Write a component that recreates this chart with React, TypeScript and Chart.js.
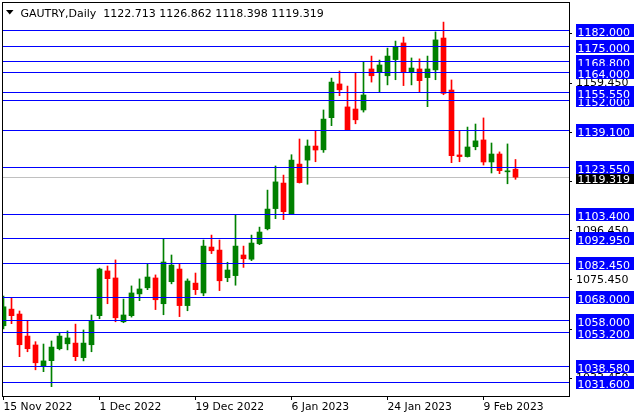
import React, { useEffect, useRef } from "react";
import { Chart, registerables } from "chart.js";

Chart.register(...registerables);

// ---- data (daily OHLC, bar index 0 = 15 Nov 2022) ----
const opens = [
  1055.9, 1063.0, 1060.9, 1051.5, 1047.7, 1038.7, 1041.0, 1046.1, 1048.2, 1048.5,
  1042.3, 1047.8, 1060.2, 1079.3, 1076.3, 1057.6, 1060.2, 1069.5, 1072.1, 1076.3,
  1065.3, 1074.7, 1080.1, 1064.5, 1074.1, 1069.9, 1089.5, 1088.2, 1076.4, 1077.3,
  1086.1, 1084.3, 1090.9, 1097.3, 1105.9, 1116.8, 1103.6, 1124.9, 1126.6, 1132.6,
  1131.0, 1144.7, 1159.1, 1149.3, 1148.4, 1148.0, 1165.5, 1164.2, 1162.6, 1169.5,
  1176.6, 1164.2, 1165.5, 1161.8, 1165.1, 1178.7, 1156.5, 1128.8, 1128.1, 1132.3,
  1135.2, 1125.8, 1129.2, 1121.6, 1122.713,
];
const highs = [
  1068.6, 1067.9, 1062.2, 1058.1, 1049.1, 1048.1, 1049.4, 1052.9, 1053.7, 1056.6,
  1054.1, 1060.5, 1080.5, 1081.4, 1084.0, 1067.3, 1072.9, 1075.9, 1082.4, 1077.6,
  1093.2, 1086.1, 1082.1, 1075.9, 1078.4, 1092.5, 1094.6, 1092.5, 1083.0, 1103.2,
  1089.9, 1094.6, 1098.0, 1113.8, 1124.1, 1120.2, 1128.9, 1135.6, 1135.2, 1139.1,
  1148.0, 1161.6, 1164.6, 1158.2, 1163.8, 1168.5, 1171.0, 1169.3, 1174.4, 1177.4,
  1179.1, 1170.2, 1169.8, 1171.0, 1181.3, 1185.5, 1160.8, 1139.1, 1140.7, 1142.0,
  1144.6, 1133.9, 1130.1, 1133.5, 1126.862,
];
const lows = [
  1054.6, 1056.8, 1042.7, 1044.8, 1037.1, 1036.3, 1029.9, 1045.6, 1045.6, 1041.0,
  1040.9, 1044.8, 1058.9, 1065.3, 1057.6, 1057.2, 1059.6, 1066.6, 1071.3, 1062.8,
  1060.6, 1073.8, 1059.8, 1062.3, 1069.2, 1068.7, 1086.7, 1070.9, 1074.7, 1073.2,
  1080.8, 1083.7, 1090.5, 1096.8, 1101.6, 1101.2, 1103.4, 1116.8, 1116.3, 1125.9,
  1129.9, 1141.3, 1154.1, 1139.2, 1142.1, 1147.1, 1159.9, 1155.7, 1158.7, 1160.9,
  1158.4, 1158.7, 1155.7, 1149.4, 1160.9, 1154.5, 1125.5, 1125.9, 1127.9, 1131.0,
  1124.5, 1121.1, 1120.8, 1116.5, 1118.398,
];
const closes = [
  1064.0, 1060.2, 1047.8, 1046.1, 1040.1, 1040.9, 1046.8, 1051.5, 1050.7, 1042.7,
  1048.5, 1058.1, 1080.1, 1076.0, 1059.3, 1060.5, 1069.9, 1071.6, 1076.7, 1067.0,
  1083.1, 1081.8, 1064.5, 1075.0, 1071.3, 1089.9, 1087.9, 1075.1, 1079.7, 1089.9,
  1084.5, 1091.2, 1095.9, 1105.7, 1117.3, 1104.6, 1126.6, 1117.0, 1132.6, 1130.9,
  1144.1, 1159.9, 1156.6, 1139.4, 1143.8, 1154.4, 1162.6, 1167.2, 1171.0, 1175.0,
  1164.3, 1165.9, 1160.5, 1165.5, 1177.9, 1155.1, 1128.5, 1128.1, 1132.2, 1134.8,
  1125.8, 1129.2, 1122.1, 1121.9, 1119.319,
];

// horizontal levels (drawn in this order)
const levels = [
  1182.0, 1175.0, 1168.8, 1164.0, 1152.0, 1155.55, 1139.1, 1123.55,
  1103.4, 1092.95, 1082.45, 1068.0, 1058.0, 1053.2, 1038.58, 1031.6,
];
const lastPrice = 1119.319;

const yTickValues = [1033.45, 1054.45, 1075.45, 1096.45, 1117.45, 1138.45, 1159.45, 1180.45];
const xTickIndex = [0, 12, 24, 36, 48, 60];
const xTickLabels = ["15 Nov 2022", "1 Dec 2022", "19 Dec 2022", "6 Jan 2023", "24 Jan 2023", "9 Feb 2023"];
const titleText = "GAUTRY,Daily  1122.713 1126.862 1118.398 1119.319";

const BULL = "#008000";
const BEAR = "#FF0000";
const LEVEL = "#0000FF";
const FONT = "'DejaVu Sans', Tahoma, sans-serif";

export default function App() {
  const ref = useRef<HTMLCanvasElement>(null);

  useEffect(() => {
    if (!ref.current) return;
    const colors = opens.map((o, i) => (closes[i] >= o ? BULL : BEAR));
    const bodies = opens.map((o, i) => ({ x: i, y: [o, closes[i]] }));
    const wicks = opens.map((_, i) => ({ x: i, y: [lows[i], highs[i]] }));

    const overlay = {
      id: "overlay",
      beforeDatasetsDraw(chart: any) {
        const { ctx, chartArea: a, scales } = chart;
        const y = scales.y;
        ctx.save();
        ctx.strokeStyle = "#C0C0C0";
        ctx.lineWidth = 1;
        const py = Math.floor(y.getPixelForValue(lastPrice)) + 0.5;
        ctx.beginPath();
        ctx.moveTo(a.left, py);
        ctx.lineTo(a.right, py);
        ctx.stroke();
        ctx.restore();
      },
      afterDatasetsDraw(chart: any) {
        const { ctx, chartArea: a, scales } = chart;
        const y = scales.y;
        ctx.save();
        ctx.strokeStyle = LEVEL;
        ctx.lineWidth = 1;
        levels.forEach((v) => {
          const py = Math.floor(y.getPixelForValue(v)) + 0.5;
          ctx.beginPath();
          ctx.moveTo(a.left, py);
          ctx.lineTo(a.right, py);
          ctx.stroke();
        });
        ctx.restore();
      },
      afterDraw(chart: any) {
        const { ctx, chartArea: a, scales } = chart;
        const y = scales.y;
        ctx.save();
        // frame
        ctx.strokeStyle = "#000";
        ctx.lineWidth = 1;
        ctx.strokeRect(a.left - 0.5, a.top - 0.5, a.right - a.left + 1, a.bottom - a.top + 1);

        // title
        ctx.fillStyle = "#000";
        ctx.beginPath();
        ctx.moveTo(6, 10);
        ctx.lineTo(13.5, 10);
        ctx.lineTo(9.75, 14.5);
        ctx.closePath();
        ctx.fill();
        ctx.font = `11px ${FONT}`;
        ctx.textBaseline = "alphabetic";
        ctx.textAlign = "left";
        ctx.fillText(titleText, 20.5, 16.5);

        // price boxes
        const bx = a.right + 7;
        const drawBox = (v: number, bg: string) => {
          const py = Math.floor(y.getPixelForValue(v));
          ctx.fillStyle = bg;
          ctx.fillRect(bx, py - 6, 58, 13);
          ctx.fillStyle = "#FFFFFF";
          ctx.font = `11px ${FONT}`;
          ctx.fillText(v.toFixed(3), bx + 1.5, py + 6);
        };
        drawBox(lastPrice, "#000000");
        levels.forEach((v) => drawBox(v, LEVEL));
        ctx.restore();
      },
    };

    const chart = new Chart(ref.current, {
      type: "bar",
      data: {
        datasets: [
          {
            label: "body",
            data: bodies as any,
            backgroundColor: colors,
            barThickness: 5,
            minBarLength: 1,
            borderWidth: 0,
            grouped: false,
          } as any,
          {
            label: "wick",
            data: wicks as any,
            backgroundColor: colors,
            barThickness: 1,
            borderWidth: 0,
            grouped: false,
          } as any,
        ],
      },
      options: {
        animation: false,
        responsive: false,
        events: [],
        layout: { padding: { left: 3, top: 3, right: 0, bottom: 0 } },
        plugins: { legend: { display: false }, tooltip: { enabled: false }, title: { display: false } },
        scales: {
          x: {
            type: "linear",
            offset: false,
            min: -0.0625,
            max: 70.6875,
            border: { display: false },
            grid: { display: true, offset: false, drawOnChartArea: false, drawTicks: true, tickLength: 4, color: "#000" },
            afterBuildTicks: (scale: any) => {
              scale.ticks = xTickIndex.map((v) => ({ value: v }));
            },
            afterFit: (scale: any) => {
              scale.height = 24;
              scale.paddingLeft = 0;
              scale.paddingRight = 0;
              scale.paddingTop = 0;
              scale.paddingBottom = 0;
            },
            ticks: {
              autoSkip: false,
              maxRotation: 0,
              minRotation: 0,
              align: "start",
              padding: 1,
              color: "#000",
              font: { family: FONT, size: 10.75 },
              callback: (v: any) => {
                const k = xTickIndex.indexOf(Number(v));
                return k >= 0 ? xTickLabels[k] : "";
              },
            },
          },
          y: {
            type: "linear",
            position: "right",
            min: 1025.92,
            max: 1193.65,
            border: { display: false },
            grid: { display: true, drawOnChartArea: false, drawTicks: true, tickLength: 3, color: "#000" },
            afterBuildTicks: (scale: any) => {
              scale.ticks = yTickValues.map((v) => ({ value: v }));
            },
            afterFit: (scale: any) => {
              scale.width = 71;
              scale.paddingTop = 0;
              scale.paddingBottom = 0;
              scale.paddingLeft = 0;
              scale.paddingRight = 0;
            },
            ticks: {
              autoSkip: false,
              padding: 4,
              color: "#000",
              font: { family: FONT, size: 11 },
              callback: (v: any) => Number(v).toFixed(3),
            },
          },
        },
      },
      plugins: [overlay],
    } as any);

    return () => chart.destroy();
  }, []);

  return (
    <div style={{ position: "fixed", left: 0, top: 0, width: 640, height: 420, background: "#fff" }}>
      <canvas ref={ref} width={640} height={420} style={{ display: "block" }} />
    </div>
  );
}
